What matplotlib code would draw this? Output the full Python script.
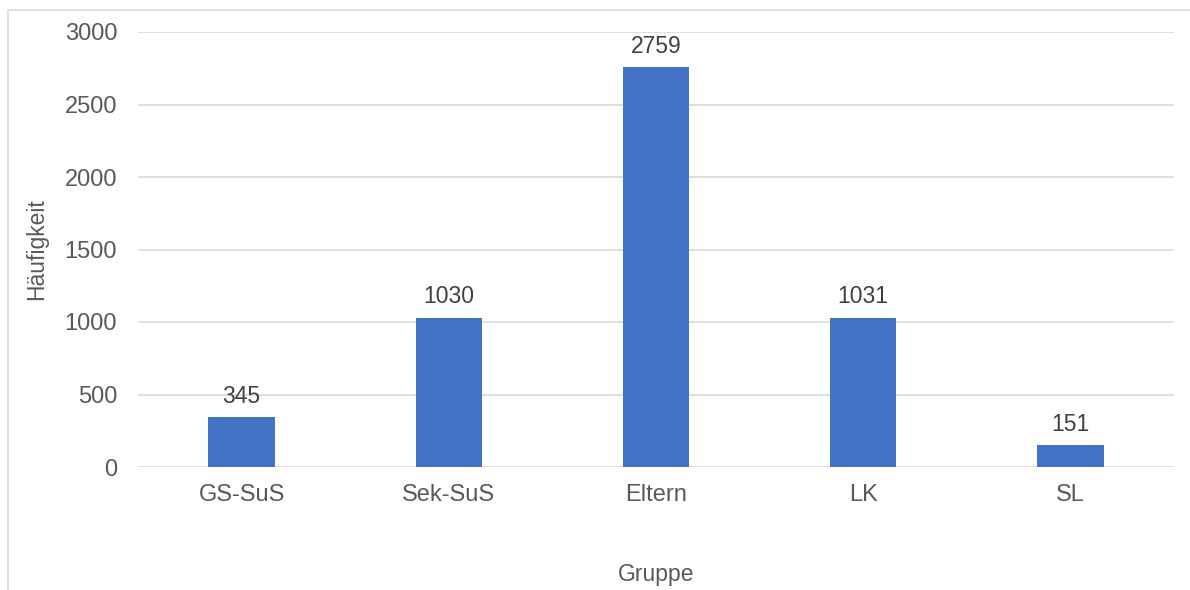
import matplotlib.pyplot as plt
from matplotlib.patches import Rectangle

plt.rcParams['font.family'] = ['Liberation Sans', 'DejaVu Sans']

# data
gruppen = ["GS-SuS", "Sek-SuS", "Eltern", "LK", "SL"]
haeufigkeit = [345, 1030, 2759, 1031, 151]
y_ticks = [0, 500, 1000, 1500, 2000, 2500, 3000]

text_col = "#595959"
grid_col = "#d9d9d9"
bar_col = "#4472C4"

fig = plt.figure(figsize=(11.9, 5.9), dpi=100)
ax = fig.add_axes([138 / 1190, 1 - 467 / 590, (1174 - 138) / 1190, (467 - 32) / 590])

x = range(len(gruppen))
bars = ax.bar(x, haeufigkeit, width=0.32, color=bar_col, zorder=3)
for b, v in zip(bars, haeufigkeit):
    ax.text(b.get_x() + b.get_width() / 2, v + 65, str(v), ha="center", va="bottom",
            fontsize=16.5, color="#404040")

ax.set_xlim(-0.5, len(gruppen) - 0.5)
ax.set_ylim(0, 3000)
ax.set_yticks(y_ticks)
ax.set_xticks(list(x))
ax.set_xticklabels(gruppen)
ax.yaxis.grid(True, color=grid_col, linewidth=1.2, zorder=0)
for s in ax.spines.values():
    s.set_visible(False)
ax.tick_params(axis="both", length=0, labelsize=17, labelcolor=text_col)
ax.tick_params(axis="y", pad=15)
ax.tick_params(axis="x", pad=12)

ax.set_xlabel("Gruppe", fontsize=16.5, color=text_col, labelpad=41)
ax.set_ylabel("Häufigkeit", fontsize=16.5, color=text_col, labelpad=12)

# outer chart border (cropped on right and bottom)
fig.patches.append(Rectangle((8 / 1190, -0.1), 1.2, 1 - 10 / 590 + 0.1,
                             transform=fig.transFigure, fill=False,
                             edgecolor=grid_col, linewidth=1.2))

fig.savefig("out.png", dpi=100)
